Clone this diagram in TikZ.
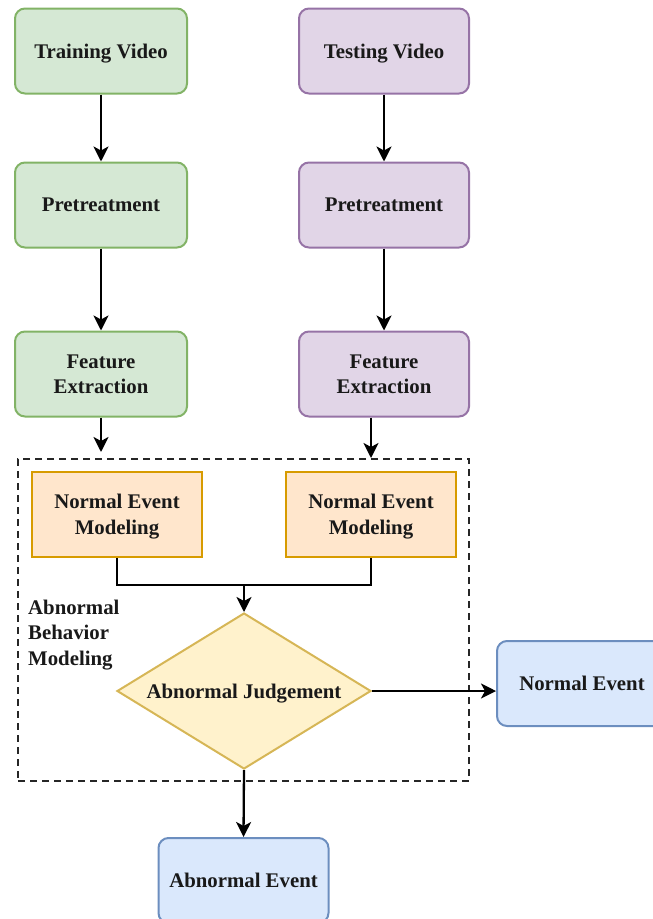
\documentclass[tikz,border=0pt]{standalone}
\usepackage{fontspec}
\setmainfont{Liberation Serif}
\usetikzlibrary{shapes.geometric,arrows.meta}
\definecolor{gfill}{HTML}{D5E8D4}\definecolor{gline}{HTML}{82B366}
\definecolor{pfill}{HTML}{E1D5E7}\definecolor{pline}{HTML}{9673A6}
\definecolor{ofill}{HTML}{FFE6CC}\definecolor{oline}{HTML}{D79B00}
\definecolor{yfill}{HTML}{FFF2CC}\definecolor{yline}{HTML}{D6B656}
\definecolor{bfill}{HTML}{DAE8FC}\definecolor{bline}{HTML}{6C8EBF}
\begin{document}
\begin{tikzpicture}[x=1pt,y=-1pt,
  txt/.style={font=\bfseries\fontsize{20.8}{25.5}\selectfont, text=black!90},
  box/.style={txt, draw, line width=2pt, minimum height=85pt, inner sep=2pt, align=center, text depth=0pt},
  rbox/.style={box, rounded corners=10pt},
  green/.style={rbox, fill=gfill, draw=gline, minimum width=172pt},
  purple/.style={rbox, fill=pfill, draw=pline, minimum width=170pt},
  orange/.style={box, fill=ofill, draw=oline, minimum width=170pt},
  blue/.style={rbox, fill=bfill, draw=bline, minimum width=170pt},
  arr/.style={line width=2.3pt, -{Stealth[length=15pt,width=15pt,inset=4pt]}},
  conn/.style={line width=2.3pt},
  grpbox/.style={draw, line width=2pt, dash pattern=on 7pt off 5pt, black!85, minimum width=451pt, minimum height=322pt, inner sep=0pt}
]
\useasboundingbox (0,0) rectangle (653,919);
\clip (0,0) rectangle (653,919);
\node[green] (tv) at (101,51) {Training Video};
\node[purple] (sv) at (384,51) {Testing Video};
\node[green] (pl) at (101,205) {Pretreatment};
\node[purple] (pr) at (384,205) {Pretreatment};
\node[green] (fl) at (101,374) {Feature\\Extraction};
\node[purple] (fr) at (384,374) {Feature\\Extraction};
\node[grpbox] (grp) at (243.5,620) {};
\node[orange] (nl) at (117,514.5) {Normal Event\\Modeling};
\node[orange] (nr) at (371,514.5) {Normal Event\\Modeling};
\node[txt, anchor=west, align=left, inner sep=0pt] (lbl) at (28,635) {Abnormal\\Behavior\\Modeling};
\node[txt, diamond, draw=yline, fill=yfill, line width=2pt, inner sep=0pt, shape aspect=1.63, minimum width=254pt, minimum height=156pt, text depth=0pt] (dm) at (244,691) {Abnormal Judgement};
\node[blue] (ne) at (582,683.5) {Normal Event};
\node[blue] (ae) at (243.5,880.5) {Abnormal Event};
\coordinate (fa) at (101,452);
\coordinate (j) at (244,585);
\draw[arr] (tv) -- (pl);
\draw[arr] (sv) -- (pr);
\draw[arr] (pl) -- (fl);
\draw[arr] (pr) -- (fr);
\draw[arr] (fl.south) -- (fa);
\draw[arr] (fr.south -| nr.north) -- (grp.north -| nr.north);
\draw[conn] (nl.south) -- (nl.south |- j) -- (nr.south |- j) -- (nr.south);
\draw[arr] (j) -- (dm.north);
\draw[arr] (dm.east) -- (dm.east -| ne.west);
\draw[arr] (dm.south) -- (ae.north);
\end{tikzpicture}
\end{document}
